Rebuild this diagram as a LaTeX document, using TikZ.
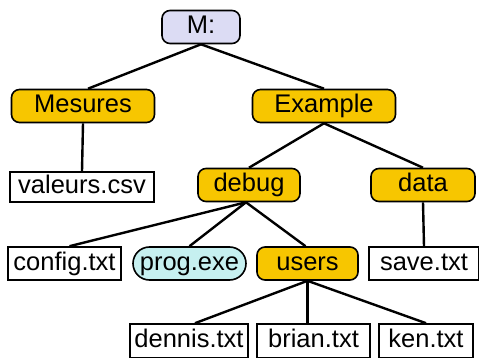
\documentclass[tikz,border=0pt]{standalone}
\usepackage{fontspec}
\setmainfont{Liberation Sans}
\usetikzlibrary{shapes.misc}
\definecolor{dirfill}{HTML}{F7C600}
\definecolor{rootfill}{HTML}{DCDCF4}
\definecolor{exefill}{HTML}{C6F0F0}
\begin{document}
\begin{tikzpicture}[x=1pt,y=-1pt,
  base/.style={draw=black,line width=1.6pt,inner sep=0pt,
    font=\fontsize{25.5}{30}\selectfont,text height=18.5pt,text depth=5pt,
    minimum height=33pt},
  dirbox/.style={base,fill=dirfill,rounded corners=8pt},
  rootbox/.style={base,fill=rootfill,rounded corners=8pt},
  exebox/.style={base,fill=exefill,rounded rectangle},
  filebox/.style={base,fill=white},
  edge/.style={line width=2.4pt}]
\useasboundingbox (0,0) rectangle (479,358);

% directories
\node[rootbox,minimum width=78pt]  (M)   at (201,27)  {M:};
\node[dirbox,minimum width=143pt]  (mes) at (83,106)  {Mesures};
\node[dirbox,minimum width=143pt]  (ex)  at (324,106) {Example};
\node[dirbox,minimum width=102pt]  (dbg) at (249,185) {debug};
\node[dirbox,minimum width=104pt]  (dat) at (423,185) {data};
\node[dirbox,minimum width=101pt]  (usr) at (307.5,263.5) {users};

% files
\node[filebox,minimum width=144pt,minimum height=30pt] (val) at (82,187) {valeurs.csv};
\node[filebox,minimum width=113pt] (cfg) at (64.5,263.5) {config.txt};
\node[exebox,minimum width=113pt]  (prg) at (189.5,263.5) {prog.exe};
\node[filebox,minimum width=110pt] (sav) at (424,263.5) {save.txt};
\node[filebox,minimum width=118pt,minimum height=34pt] (den) at (189,341) {dennis.txt};
\node[filebox,minimum width=113pt,minimum height=34pt] (bri) at (313.5,341) {brian.txt};
\node[filebox,minimum width=94pt,minimum height=34pt]  (ken) at (426,341) {ken.txt};

% tree edges
\draw[edge] (M.south) -- ([xshift=5pt]mes.north);
\draw[edge] (M.south) -- (ex.north);
\draw[edge] (mes.south) -- (val.north);
\draw[edge] (ex.south) -- (dbg.north);
\draw[edge] (ex.south) -- (dat.north);
\draw[edge] (dat.south) -- (sav.north);
\draw[edge] ([xshift=-3pt]dbg.south) -- ([xshift=5pt]cfg.north);
\draw[edge] ([xshift=-3pt]dbg.south) -- (prg.north);
\draw[edge] ([xshift=-3pt]dbg.south) -- ([xshift=-2pt]usr.north);
\draw[edge] (usr.south) -- ([xshift=6pt]den.north);
\draw[edge] (usr.south) -- (usr.south |- bri.north);
\draw[edge] (usr.south) -- (ken.north);
\end{tikzpicture}
\end{document}
